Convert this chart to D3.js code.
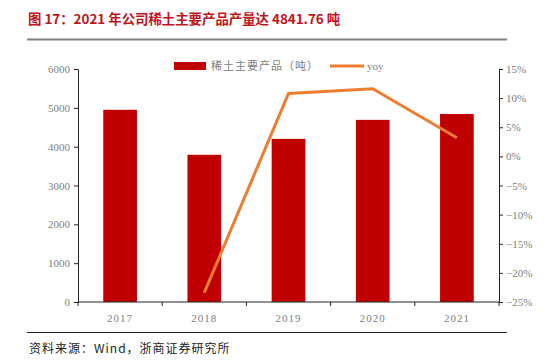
<!DOCTYPE html>
<html>
<head>
<meta charset="utf-8">
<script src="https://cdn.jsdelivr.net/npm/d3@7"></script>
<style>
  body { margin: 0; background: #fff; }
  svg { display: block; }
</style>
</head>
<body>
<svg></svg>
<script>
const years = ["2017", "2018", "2019", "2020", "2021"];
const output = [4950, 3790, 4201, 4690, 4841.76];
const yoy = [null, -23.4, 10.8, 11.6, 3.2];
const leftTicks = [0, 1000, 2000, 3000, 4000, 5000, 6000];
const rightTicks = [-25, -20, -15, -10, -5, 0, 5, 10, 15];

const width = 559, height = 364;
const margin = { top: 69, right: 60, bottom: 62, left: 78 };

const svg = d3.select("svg")
  .attr("width", width)
  .attr("height", height);

// title
svg.append("text")
  .attr("x", 28).attr("y", 24)
  .attr("fill", "#C0141C")
  .style("font-family", "'Noto Sans CJK SC', sans-serif")
  .style("font-weight", "bold")
  .style("font-size", "13.4px")
  .text("图 17：2021 年公司稀土主要产品产量达 4841.76 吨");

svg.append("line")
  .attr("x1", 27).attr("x2", 507).attr("y1", 39.5).attr("y2", 39.5)
  .attr("stroke", "#808080").attr("stroke-width", 2);

svg.append("line")
  .attr("x1", 27).attr("x2", 507).attr("y1", 332.5).attr("y2", 332.5)
  .attr("stroke", "#222").attr("stroke-width", 1);

svg.append("text")
  .attr("x", 29).attr("y", 353)
  .attr("fill", "#222")
  .style("font-family", "'Noto Sans CJK SC', serif")
  .style("font-size", "12px")
  .style("letter-spacing", "1px")
  .text("资料来源：Wind，浙商证券研究所");

const x = d3.scaleBand()
  .domain(years)
  .range([margin.left, width - margin.right])
  .paddingInner(0.6)
  .paddingOuter(0.3);

const y = d3.scaleLinear()
  .domain([0, 6000])
  .range([height - margin.bottom, margin.top]);

const y2 = d3.scaleLinear()
  .domain([-25, 15])
  .range([height - margin.bottom, margin.top]);

const tickFont = g => g.selectAll("text")
  .attr("fill", "#808080")
  .style("font-family", "'Liberation Serif', serif")
  .style("font-size", "11px");

// bars
svg.selectAll(".bar")
  .data(output)
  .enter()
  .append("rect")
  .attr("class", "bar")
  .attr("x", (d, i) => x(years[i]))
  .attr("y", d => y(d))
  .attr("width", x.bandwidth())
  .attr("height", d => y(0) - y(d))
  .attr("fill", "#C00000");

// yoy line
const pts = yoy.map((v, i) => [years[i], v]).filter(p => p[1] !== null);
svg.append("path")
  .datum(pts)
  .attr("fill", "none")
  .attr("stroke", "#ED7D31")
  .attr("stroke-width", 3)
  .attr("d", d3.line()
    .x(p => x(p[0]) + x.bandwidth() / 2)
    .y(p => y2(p[1])));

// left axis
svg.append("g")
  .attr("transform", `translate(${margin.left},0)`)
  .call(d3.axisLeft(y).tickValues(leftTicks).tickSize(4).tickPadding(4)
    .tickFormat(d3.format("d")))
  .call(g => g.select(".domain").attr("stroke", "#222"))
  .call(g => g.selectAll("line").attr("stroke", "#222"))
  .call(tickFont);

// right axis
svg.append("g")
  .attr("transform", `translate(${width - margin.right},0)`)
  .call(d3.axisRight(y2).tickValues(rightTicks).tickSize(4).tickPadding(3)
    .tickFormat(d => (d < 0 ? "\u2212" + (-d) : d) + "%"))
  .call(g => g.select(".domain").attr("stroke", "#222"))
  .call(g => g.selectAll("line").attr("stroke", "#222"))
  .call(tickFont);

// bottom axis: ticks between categories
const xAxis = svg.append("g")
  .attr("transform", `translate(0,${y(0)})`);
xAxis.append("line")
  .attr("x1", margin.left).attr("x2", width - margin.right)
  .attr("stroke", "#222");
const step = x.step();
const gap = (step - x.bandwidth()) / 2;
const edges = years.map(d => x(d) - gap)
  .concat([x(years[years.length - 1]) + x.bandwidth() + gap]);
xAxis.selectAll(".tk")
  .data(edges)
  .enter()
  .append("line")
  .attr("x1", d => d).attr("x2", d => d)
  .attr("y1", 0).attr("y2", 4)
  .attr("stroke", "#222");
xAxis.selectAll(".lbl")
  .data(years)
  .enter()
  .append("text")
  .attr("x", d => x(d) + x.bandwidth() / 2)
  .attr("y", 20)
  .attr("text-anchor", "middle")
  .attr("fill", "#808080")
  .style("font-family", "'Liberation Serif', serif")
  .style("font-size", "11px")
  .style("letter-spacing", "1px")
  .text(d => d);

// legend
const legend = svg.append("g").attr("transform", "translate(174,66)");
legend.append("rect")
  .attr("x", 0).attr("y", -4).attr("width", 32).attr("height", 8)
  .attr("fill", "#C00000");
legend.append("text")
  .attr("x", 37).attr("y", 4)
  .attr("fill", "#808080")
  .style("font-family", "'Noto Sans CJK SC', sans-serif")
  .style("font-size", "11px")
  .style("letter-spacing", "1px")
  .text("稀土主要产品（吨）");
legend.append("line")
  .attr("x1", 156).attr("x2", 190).attr("y1", 0).attr("y2", 0)
  .attr("stroke", "#ED7D31").attr("stroke-width", 3);
legend.append("text")
  .attr("x", 193).attr("y", 4)
  .attr("fill", "#808080")
  .style("font-family", "'Liberation Serif', serif")
  .style("font-size", "11px")
  .text("yoy");
</script>
</body>
</html>
